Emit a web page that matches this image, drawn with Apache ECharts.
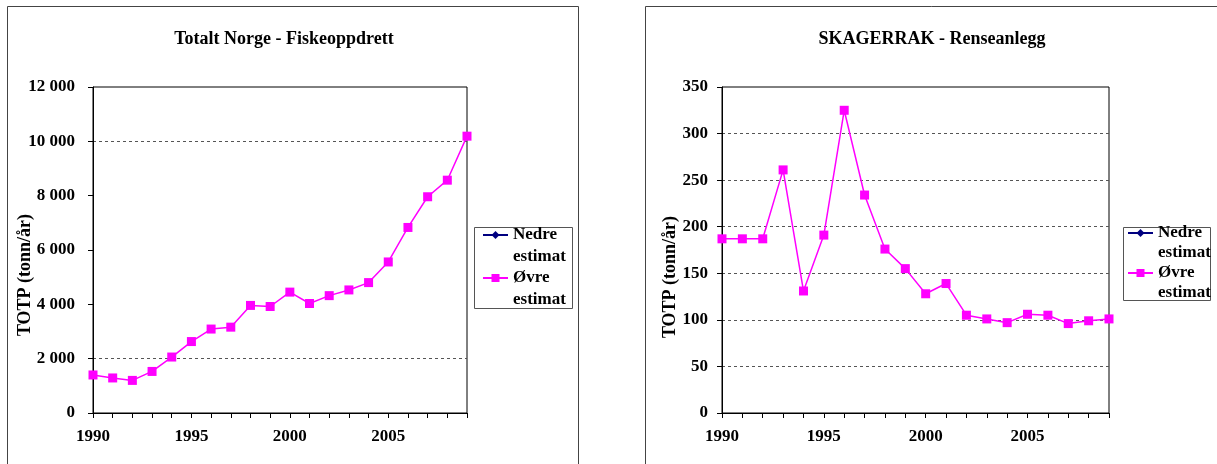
<!DOCTYPE html>
<html>
<head>
<meta charset="utf-8">
<script src="https://cdn.jsdelivr.net/npm/echarts@6/dist/echarts.min.js"></script>
<style>
html,body{margin:0;padding:0;background:#fff;}
#c{width:1217px;height:464px;}
</style>
</head>
<body>
<div id="c"></div>
<script>
const years = ['1990','1991','1992','1993','1994','1995','1996','1997','1998','1999','2000','2001','2002','2003','2004','2005','2006','2007','2008','2009'];
const norgeOvre = [1400,1290,1200,1530,2060,2630,3090,3160,3960,3920,4450,4030,4320,4530,4800,5560,6830,7960,8570,10190];
const norgeNedre = [];
const skagOvre = [187,187,187,261,131,191,325,234,176,155,128,139,105,101,97,106,105,96,99,101];
const skagNedre = [];
const titles = ['Totalt Norge - Fiskeoppdrett','SKAGERRAK - Renseanlegg'];
const yName = 'TOTP (tonn/år)';
const seriesNames = ['Nedre estimat','Øvre estimat'];

const FONT = '"Liberation Serif","Times New Roman",serif';
const chart = echarts.init(document.getElementById('c'));

function xAxis(gi){
  return {
    type:'category', gridIndex:gi, data:years, boundaryGap:false,
    axisLine:{lineStyle:{color:'#000',width:1}},
    axisTick:{show:true,interval:0,length:5,lineStyle:{color:'#000'}},
    axisLabel:{interval:4,margin:15,color:'#000',fontFamily:FONT,fontWeight:'bold',fontSize:17},
    splitLine:{show:false}
  };
}
function yAxis(gi,max,interval,colors,margin,fmt){
  return {
    type:'value', gridIndex:gi, min:0, max:max, interval:interval,
    axisLine:{show:true,lineStyle:{color:'#000',width:1}},
    axisTick:{show:true,length:5,lineStyle:{color:'#000'}},
    axisLabel:{margin:margin,color:'#000',fontFamily:FONT,fontWeight:'bold',fontSize:17,formatter:fmt},
    splitLine:{show:true,lineStyle:{color:colors,type:[3,3],width:1}}
  };
}
const T='rgba(0,0,0,0)', G='#555';
function ovre(gi,data){
  return {name:seriesNames[1],type:'line',xAxisIndex:gi,yAxisIndex:gi,data:data,
    symbol:'rect',symbolSize:9,lineStyle:{color:'#FF00FF',width:1.5},itemStyle:{color:'#FF00FF'},z:3};
}
function nedre(gi,data){
  return {name:seriesNames[0],type:'line',xAxisIndex:gi,yAxisIndex:gi,data:data,
    symbol:'diamond',symbolSize:8,lineStyle:{color:'#000080',width:1.5},itemStyle:{color:'#000080'},z:2};
}
function legend(left,iconTop,lh,gap){
  return {
    orient:'vertical', left:left, top:iconTop - lh*1.5, padding:0,
    itemGap:gap, itemWidth:25, itemHeight:10, itemStyle:{borderWidth:0},
    data:seriesNames,
    formatter:function(n){return '\n'+n.replace(' ','\n');},
    textStyle:{fontFamily:FONT,fontWeight:'bold',fontSize:17,color:'#000',lineHeight:lh},
    selectedMode:false
  };
}
chart.setOption({
  animation:false,
  backgroundColor:'#fff',
  title:[
    {text:titles[0],left:279,top:25,textAlign:'center',textStyle:{fontFamily:FONT,fontWeight:'bold',fontSize:18,color:'#000'}},
    {text:titles[1],left:927,top:25,textAlign:'center',textStyle:{fontFamily:FONT,fontWeight:'bold',fontSize:18,color:'#000'}}
  ],
  grid:[
    {left:93,top:87,width:374,height:326,show:true,borderColor:'#000',borderWidth:1,backgroundColor:'transparent'},
    {left:722,top:87,width:387,height:326,show:true,borderColor:'#000',borderWidth:1,backgroundColor:'transparent'}
  ],
  xAxis:[xAxis(0),xAxis(1)],
  yAxis:[
    yAxis(0,12000,2000,[T,G,T,T,T,G,T],18,function(v){return v>=1000? String(Math.floor(v/1000))+' '+String(v%1000).padStart(3,'0') : String(v);}),
    yAxis(1,350,50,[T,G,G,G,G,G,G,T],14,function(v){return String(v);})
  ],
  legend:[legend(482,235,22,-23), legend(1127,233,20,-20)],
  series:[nedre(0,norgeNedre),ovre(0,norgeOvre),nedre(1,skagNedre),ovre(1,skagOvre)],
  graphic:[
    {type:'rect',shape:{x:7.5,y:6.5,width:571,height:470},style:{fill:'none',stroke:'#444',lineWidth:1},silent:true,z:-10},
    {type:'rect',shape:{x:645.5,y:6.5,width:600,height:470},style:{fill:'none',stroke:'#444',lineWidth:1},silent:true,z:-10},
    {type:'rect',shape:{x:474.5,y:227.5,width:98,height:81},style:{fill:'none',stroke:'#555',lineWidth:1},silent:true},
    {type:'rect',shape:{x:1123.5,y:227.5,width:87,height:73},style:{fill:'none',stroke:'#555',lineWidth:1},silent:true},
    {type:'text',x:25,y:275,rotation:Math.PI/2,style:{text:yName,fontFamily:FONT,fontWeight:'bold',fontSize:18,fill:'#000',align:'center',verticalAlign:'middle'}},
    {type:'text',x:670,y:277,rotation:Math.PI/2,style:{text:yName,fontFamily:FONT,fontWeight:'bold',fontSize:18,fill:'#000',align:'center',verticalAlign:'middle'}}
  ]
});
</script>
</body>
</html>
